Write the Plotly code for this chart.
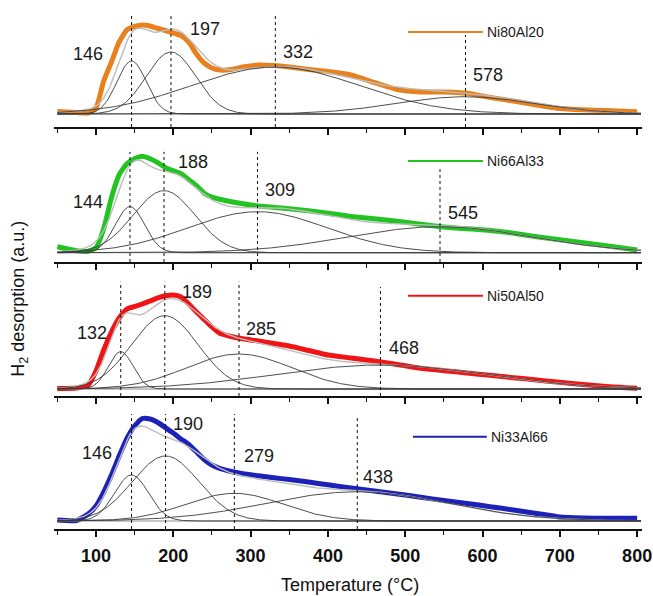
import numpy as np
import plotly.graph_objects as go

# Temperatures (°C) at which the desorption signal is tabulated
temperature = [50, 75, 90, 100, 110, 120, 130, 140, 150, 160, 170, 180, 190, 200,
               210, 220, 230, 240, 250, 260, 275, 290, 310, 330, 350, 375, 400,
               430, 460, 490, 520, 550, 580, 610, 640, 670, 700, 730, 760, 800]

# H2 desorption signal (a.u.) for each catalyst
ni80al20 = [2.5, 1.5, 1.0, 6.0, 33, 52, 72, 84, 87.5, 89, 88, 85.5, 83.5, 81,
            78.5, 72, 60, 51, 46, 44, 44.5, 47, 49, 48.5, 47, 44.5, 42.5,
            39, 31.5, 24.5, 22, 22, 20.7, 16.5, 13, 9, 5.5, 4.2, 3.5, 2.3]
ni66al33 = [6.0, 2.0, 1.5, 5.0, 24, 55, 78, 89, 94, 96.5, 94, 90, 85, 82,
            79, 73, 67, 59.5, 55.5, 53.5, 51, 49, 46.7, 45.3, 44, 42, 39.5,
            36.3, 34, 31.5, 28.5, 25.7, 24, 22.3, 19.5, 16, 13, 10, 7, 2.7]
ni50al50 = [0.5, 1.0, 4.0, 18, 39, 57, 71, 80, 82.5, 85, 88, 91, 93.3, 94,
            92, 85, 77, 69.5, 62, 55.7, 52.5, 50.2, 48, 45.5, 43, 38.5, 34,
            31, 28, 24.5, 20.7, 18.3, 16, 13.7, 11.3, 9, 6.7, 4.5, 2.5, 0.7]
ni33al66 = [1.0, 0.5, 7.0, 15, 29, 46, 65, 82.7, 95, 102.5, 102, 98.5, 93.3, 88,
            82, 76.5, 69, 61.5, 56, 52.7, 49.5, 47.3, 45.3, 43.3, 41.5, 39, 36.2,
            33, 30, 27, 23.8, 20.5, 17.5, 14.3, 11, 7.5, 4, 3, 2.7, 2.7]

sample_names = ["Ni80Al20", "Ni66Al33", "Ni50Al50", "Ni33Al66"]
sample_colors = ["#E8801E", "#22C422", "#F01414", "#1C22B8"]

# Gaussian deconvolution: peak centres (°C), heights (a.u.), widths (sigma, °C)
peak_centers = [[146, 197, 332, 578],
                [144, 188, 309, 545],
                [132, 189, 285, 468],
                [146, 190, 279, 438]]
peak_heights = [[53, 62, 47, 17.3],
                [46, 62, 41, 26],
                [37.3, 73.3, 35, 24],
                [46, 65, 27.7, 29.3]]
peak_widths = [[19, 32, 108, 90],
               [19, 40, 90, 119],
               [16, 43, 68, 135],
               [22, 43, 63, 117]]

tick_values = [100, 200, 300, 400, 500, 600, 700, 800]

series = [ni80al20, ni66al33, ni50al50, ni33al66]

# ---- layout constants -------------------------------------------------------
FONT = "Arial, Liberation Sans, sans-serif"
X_RANGE = [45.7, 806.3]
domains = [[0.7599, 0.9887], [0.5047, 0.7335], [0.2514, 0.4802], [0.0, 0.2287]]
y_ranges = [[-13, 108], [-9.3, 111.7], [-7, 114], [-8, 113]]
# top of each dashed marker line (fraction of panel height)
marker_tops = [[0.94, 0.94, 0.94, 0.76],
               [0.91, 0.91, 0.91, 0.79],
               [0.945, 0.945, 0.945, 0.90],
               [0.95, 0.95, 0.95, 0.94]]
# label placement: (x in °C, y in panel units)
label_pos = [[(89.7, 60), (241, 85), (361, 62), (607, 39)],
             [(89.7, 50.7), (225.5, 90.7), (338, 62.7), (575, 39.7)],
             [(94.8, 56), (230.7, 97), (313, 60), (498, 41)],
             [(101, 68), (219, 97), (311, 65), (465, 44)]]
legend_y = [82, 91.7, 93.3, 84.3]
legend_x = [(0.602, 0.7296), (0.602, 0.7296), (0.602, 0.7296), (0.6105, 0.736)]

t_fine = np.linspace(min(temperature), 805, 500)


def gaussian(t, center, height, width):
    return height * np.exp(-0.5 * ((t - center) / width) ** 2)


fig = go.Figure()
shapes = []
annotations = []

for k in range(4):
    sfx = "" if k == 0 else str(k + 1)
    xa, ya = "x" + sfx, "y" + sfx
    color = sample_colors[k]

    # measured signal
    fig.add_trace(go.Scatter(x=temperature, y=series[k], mode="lines",
                             line=dict(color=color, width=5, shape="spline", smoothing=0.5),
                             xaxis=xa, yaxis=ya, showlegend=False, hoverinfo="skip"))

    comps = [gaussian(t_fine, c, h, w) for c, h, w in
             zip(peak_centers[k], peak_heights[k], peak_widths[k])]
    fit = np.sum(comps, axis=0)

    # baseline
    fig.add_trace(go.Scatter(x=[t_fine[0], t_fine[-1]], y=[0, 0], mode="lines",
                             line=dict(color="#8c8c8c", width=1),
                             xaxis=xa, yaxis=ya, showlegend=False, hoverinfo="skip"))
    # cumulative fit
    fig.add_trace(go.Scatter(x=t_fine, y=fit, mode="lines",
                             line=dict(color="#bdbdbd", width=1.4),
                             xaxis=xa, yaxis=ya, showlegend=False, hoverinfo="skip"))
    # individual Gaussian components
    for comp in comps:
        fig.add_trace(go.Scatter(x=t_fine, y=comp, mode="lines",
                                 line=dict(color="#3a3a3a", width=0.9),
                                 xaxis=xa, yaxis=ya, showlegend=False, hoverinfo="skip"))

    # dashed markers and peak labels
    for j, c in enumerate(peak_centers[k]):
        shapes.append(dict(type="line", xref=xa, yref=ya + " domain",
                           x0=c, x1=c, y0=0, y1=marker_tops[k][j],
                           line=dict(color="#111111", width=1, dash="dot")))
        lx, ly = label_pos[k][j]
        annotations.append(dict(x=lx, y=ly, xref=xa, yref=ya, text=str(c),
                                xanchor="center", yanchor="middle",
                                showarrow=False, font=dict(family=FONT, size=18, color="#1a1a1a")))

    # in-panel legend
    x0, x1 = legend_x[k]
    shapes.append(dict(type="line", xref=xa + " domain", yref=ya,
                       x0=x0, x1=x1, y0=legend_y[k], y1=legend_y[k],
                       line=dict(color=color, width=2)))
    annotations.append(dict(x=x1 + 0.004, y=legend_y[k], xref=xa + " domain", yref=ya,
                            text=sample_names[k], showarrow=False, xanchor="left",
                            yanchor="middle",
                            font=dict(family=FONT, size=14, color="#1a1a1a")))

    xaxis = dict(domain=[0, 1], range=X_RANGE, anchor=ya, showline=True,
                 linecolor="#111111", linewidth=1.6, ticks="outside",
                 tickvals=tick_values, ticklen=6, tickwidth=1.6, tickcolor="#111111",
                 minor=dict(dtick=50, tick0=0, ticks="outside", ticklen=4,
                            tickwidth=1.4, tickcolor="#111111"),
                 showgrid=False, zeroline=False, automargin=False,
                 showticklabels=(k == 3), ticklabelstandoff=4,
                 tickfont=dict(family=FONT, size=18, color="#111111", weight="bold"))
    yaxis = dict(domain=domains[k], range=y_ranges[k], anchor=xa, visible=False,
                 showgrid=False, zeroline=False, automargin=False)
    fig.layout["xaxis" + sfx] = xaxis
    fig.layout["yaxis" + sfx] = yaxis

annotations.append(dict(x=0.503, y=-0.106, xref="paper", yref="paper",
                        xanchor="center", yanchor="middle",
                        text="Temperature (°C)", showarrow=False,
                        font=dict(family=FONT, size=18, color="#111111")))
annotations.append(dict(x=-0.058, y=0.435, xref="paper", yref="paper",
                        xanchor="center", yanchor="middle",
                        text="H<sub>2</sub> desorption (a.u.)", showarrow=False,
                        textangle=-90, font=dict(family=FONT, size=18, color="#111111")))

fig.update_layout(width=653, height=596, template="none",
                  margin=dict(l=54, r=11, t=0, b=67),
                  paper_bgcolor="white", plot_bgcolor="white",
                  shapes=shapes, annotations=annotations, showlegend=False)

fig.write_html("out.html")
